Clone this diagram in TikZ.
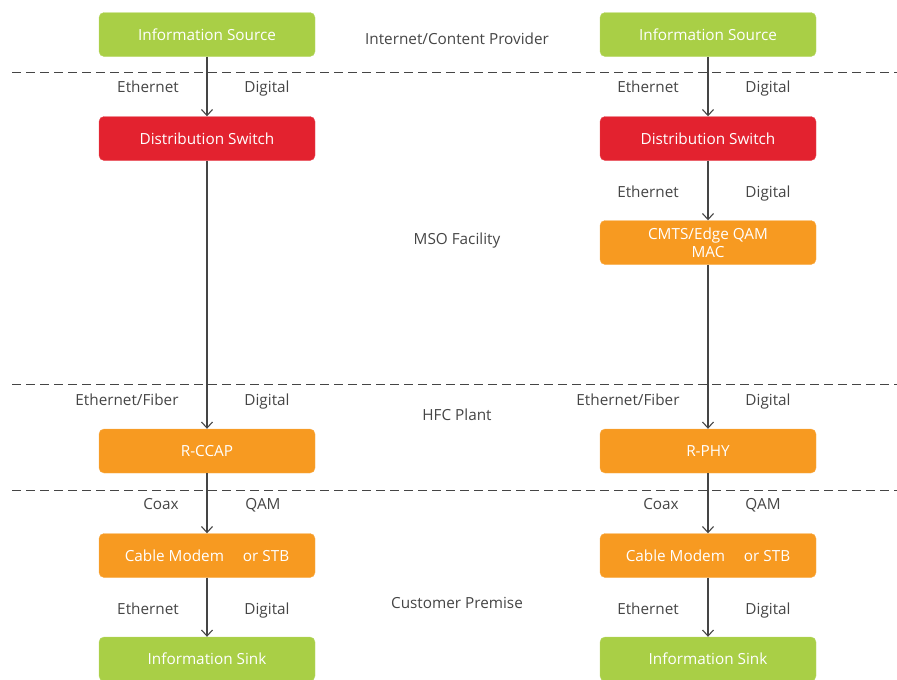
\documentclass[tikz,border=0pt]{standalone}
\usepackage{fontspec}
\setmainfont{Open Sans}
\usetikzlibrary{arrows.meta}
\definecolor{cgreen}{HTML}{A9CF46}
\definecolor{cred}{HTML}{E3222F}
\definecolor{corange}{HTML}{F79A21}
\definecolor{cgray}{HTML}{454545}
\tikzset{
  box/.style={rounded corners=5pt, minimum width=216pt, minimum height=44pt, text=white, font=\fontsize{15.3}{18}\selectfont, align=center, inner sep=0pt},
  gbox/.style={box, fill=cgreen, draw=cgreen!80!white},
  rbox/.style={box, fill=cred, draw=cred!80!white},
  obox/.style={box, fill=corange, draw=corange!80!white},
  lbl/.style={text=cgray, font=\fontsize{15.3}{18}\selectfont, inner sep=0pt, text height=11pt, text depth=3.5pt, yshift=-1.5pt},
  conn/.style={draw=cgray, line width=1.1pt, -{Straight Barb[length=6pt,width=11pt,line width=1.1pt]}},
  sep/.style={draw=cgray, line width=1pt, dash pattern=on 9pt off 5pt}
}
\begin{document}
\begin{tikzpicture}[x=1pt,y=-1pt]
\useasboundingbox (0,0) rectangle (897,680);
% separators
\draw[sep] (12,72) -- (897,72);
\draw[sep] (12,384) -- (897,384);
\draw[sep] (12,490) -- (897,490);
% left column
\node[gbox] (ls) at (207,34.5) {Information Source};
\node[rbox] (ld) at (207,138.5) {Distribution Switch};
\node[obox] (lr) at (207,451) {R-CCAP};
\node[obox] (lc) at (207,555.5) {Cable Modem\hspace{19pt}or STB};
\node[gbox] (lk) at (207,659) {Information Sink};
% right column
\node[gbox] (rs) at (708,34.5) {Information Source};
\node[rbox] (rd) at (708,138.5) {Distribution Switch};
\node[obox] (rm) at (708,242.5) {CMTS/Edge QAM\\MAC};
\node[obox] (rr) at (708,451) {R-PHY};
\node[obox] (rc) at (708,555.5) {Cable Modem\hspace{19pt}or STB};
\node[gbox] (rk) at (708,659) {Information Sink};
% connectors
\draw[conn] (ls) -- (ld);
\draw[conn] (ld) -- (lr);
\draw[conn] (lr) -- (lc);
\draw[conn] (lc) -- (lk);
\draw[conn] (rs) -- (rd);
\draw[conn] (rd) -- (rm);
\draw[conn] (rm) -- (rr);
\draw[conn] (rr) -- (rc);
\draw[conn] (rc) -- (rk);
% labels left
\node[lbl] (l1a) at (148,87) {Ethernet};
\node[lbl] (l1b) at (267,87) {Digital};
\node[lbl] (l2a) at (127,400) {Ethernet/Fiber};
\node[lbl] (l2b) at (267,400) {Digital};
\node[lbl] (l3a) at (161,504) {Coax};
\node[lbl] (l3b) at (263,504) {QAM};
\node[lbl] (l4a) at (148,609) {Ethernet};
\node[lbl] (l4b) at (267,609) {Digital};
% labels right
\node[lbl] (r1a) at (648,87) {Ethernet};
\node[lbl] (r1b) at (768,87) {Digital};
\node[lbl] (r5a) at (648,192) {Ethernet};
\node[lbl] (r5b) at (768,192) {Digital};
\node[lbl] (r2a) at (628,400) {Ethernet/Fiber};
\node[lbl] (r2b) at (768,400) {Digital};
\node[lbl] (r3a) at (661,504) {Coax};
\node[lbl] (r3b) at (763,504) {QAM};
\node[lbl] (r4a) at (648,609) {Ethernet};
\node[lbl] (r4b) at (768,609) {Digital};
% middle zone labels
\node[lbl] (z1) at (457,39.5) {Internet/Content Provider};
\node[lbl] (z2) at (457,239) {MSO Facility};
\node[lbl] (z3) at (457,415) {HFC Plant};
\node[lbl] (z4) at (457,603) {Customer Premise};
\end{tikzpicture}
\end{document}
